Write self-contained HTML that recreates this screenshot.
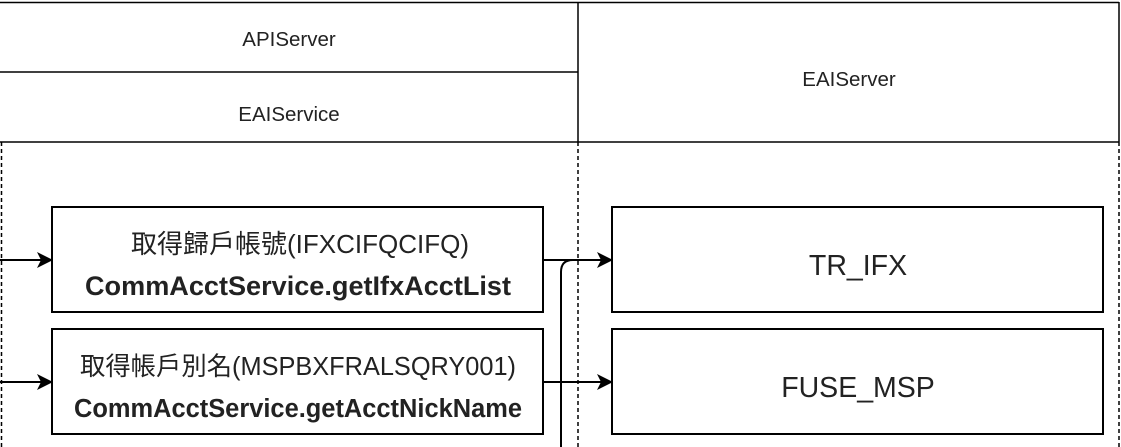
<!DOCTYPE html>
<html><head><meta charset="utf-8"><style>
html,body{margin:0;padding:0;background:#fff;}
body{width:1121px;height:447px;overflow:hidden;position:relative;}
svg{position:absolute;left:0;top:0;}
text{font-family:"Liberation Sans","Noto Sans CJK TC",sans-serif;fill:#222;}
</style></head><body>
<svg width="1121" height="447" viewBox="0 0 1121 447">
<defs>
<marker id="b" markerWidth="16" markerHeight="16" refX="15" refY="8" orient="auto" markerUnits="userSpaceOnUse"><path d="M0,0 L16,8 L0,16 L4,8z" fill="#000"/></marker></defs>
<g stroke="#000" stroke-width="1.5" fill="none">
<line x1="0" y1="2.5" x2="1119" y2="2.5"/>
<line x1="0" y1="72" x2="578" y2="72"/>
<line x1="0" y1="142" x2="1119" y2="142"/>
<line x1="578" y1="2" x2="578" y2="142"/>
<line x1="1119" y1="2" x2="1119" y2="142"/>
<line x1="1.5" y1="142" x2="1.5" y2="447" stroke-dasharray="4 3"/>
<line x1="578" y1="142" x2="578" y2="447" stroke-dasharray="4 3"/>
<line x1="1119" y1="142" x2="1119" y2="447" stroke-dasharray="4 3"/>
<rect x="52" y="207" width="491" height="105" stroke-width="2"/>
<rect x="52" y="329" width="491" height="105" stroke-width="2"/>
<rect x="612" y="207" width="491" height="105" stroke-width="2"/>
<rect x="612" y="329" width="491" height="105" stroke-width="2"/>
<line x1="0" y1="260" x2="52" y2="260" stroke-width="2" marker-end="url(#b)"/>
<line x1="0" y1="382" x2="52" y2="382" stroke-width="2" marker-end="url(#b)"/>
<line x1="543" y1="260" x2="612" y2="260" stroke-width="2" marker-end="url(#b)"/>
<line x1="543" y1="382" x2="612" y2="382" stroke-width="2" marker-end="url(#b)"/>
<path d="M561,447 L561,272 Q561,260 573,260 L600,260" stroke-width="2"/>
</g>
<text x="289" y="46" font-size="20.5" text-anchor="middle" fill="#000">APIServer</text>
<text x="289" y="121" font-size="20.5" text-anchor="middle" fill="#000">EAIService</text>
<text x="849" y="86" font-size="20.5" text-anchor="middle" fill="#000">EAIServer</text>
<text x="131" y="253" font-size="26" textLength="338" lengthAdjust="spacingAndGlyphs">取得歸戶帳號(IFXCIFQCIFQ)</text>
<text x="85" y="295" font-size="26.5" font-weight="bold" textLength="426" lengthAdjust="spacingAndGlyphs">CommAcctService.getIfxAcctList</text>
<text x="80" y="375" font-size="25.5" textLength="436" lengthAdjust="spacingAndGlyphs">取得帳戶別名(MSPBXFRALSQRY001)</text>
<text x="74" y="417" font-size="25.5" font-weight="bold" textLength="448" lengthAdjust="spacingAndGlyphs">CommAcctService.getAcctNickName</text>
<text x="858" y="275" font-size="28.5" text-anchor="middle">TR_IFX</text>
<text x="858" y="397" font-size="28.5" text-anchor="middle">FUSE_MSP</text>
</svg>
</body></html>
